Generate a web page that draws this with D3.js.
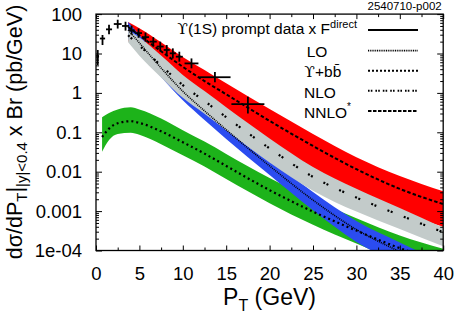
<!DOCTYPE html>
<html>
<head>
<meta charset="utf-8">
<script src="https://cdn.jsdelivr.net/npm/d3@7"></script>
<style>
  body { margin: 0; background: #fff; }
  svg { display: block; font-family: "Liberation Sans", Arial, sans-serif; }
</style>
</head>
<body>
<svg id="chart" width="457" height="315"></svg>
<script>
// theory grid (pT in GeV) for the colour-singlet curves
const ptGrid = [3.7, 5, 7.5, 10, 12.5, 15, 20, 25, 30, 35, 40];

const nnloMid = [47, 29, 11.4, 4.6, 2.0, 0.92, 0.195, 0.045, 0.0116, 0.00366, 0.00151];
const nnloHi  = [63, 44, 19.3, 8.2, 3.8, 1.75, 0.39, 0.091, 0.0234, 0.0078, 0.0032];
const nnloLo  = [20.7, 10.7, 3.5, 1.27, 0.55, 0.254, 0.054, 0.0124, 0.0032, 0.00098, 0.0004];

const nloMid = [29, 15.9, 4.93, 1.58, 0.62, 0.242, 0.039, 0.0074, 0.0022, 0.00079, 0.00029];
const nloHi  = [39, 25.4, 8.9, 2.85, 1.11, 0.433, 0.070, 0.0132, 0.0037, 0.0012, 0.00038];
const nloLo  = [19.3, 8.8, 2.47, 0.75, 0.295, 0.113, 0.0172, 0.0033, 0.00097, 0.00035, 0.000128];

const loMid = [39.5, 18.5, 4.3, 1.10, 0.35, 0.116, 0.014, 0.0019, 0.00034, 0.000093, 0.000028];
const loHi  = [63, 29.6, 6.9, 1.76, 0.56, 0.186, 0.0224, 0.00304, 0.00056, 0.00016, 0.000048];
const loLo  = [23.2, 10.9, 2.53, 0.65, 0.206, 0.068, 0.0082, 0.00105, 0.000165, 0.000044, 0.000013];

// Upsilon + b bbar
const bbGrid = [0.7, 1.5, 2.5, 4, 5, 7.5, 10, 12.5, 15, 20, 25, 30, 35, 40];
const bbMid = [0.076, 0.124, 0.170, 0.191, 0.173, 0.106, 0.056, 0.0288, 0.0140, 0.0034, 0.00097, 0.00032, 0.000115, 0.000049];
const bbHi  = [0.24, 0.31, 0.38, 0.43, 0.38, 0.223, 0.113, 0.058, 0.0283, 0.0069, 0.002, 0.00066, 0.00024, 0.00011];
const bbLo  = [0.032, 0.064, 0.091, 0.098, 0.087, 0.050, 0.026, 0.0135, 0.0065, 0.00159, 0.00045, 0.00015, 0.000053, 0.000022];

// prompt data x F^direct
const dataPt    = [0.2, 0.75, 1.5, 2.5, 3.4, 4.1, 4.9, 5.7, 6.6, 7.4, 8.15, 8.85, 9.6, 11.0, 13.7, 17.5];
const dataVal   = [8.5, 24, 41, 56, 50, 39, 33, 26, 20, 15, 12.3, 10.1, 8.3, 5.6, 2.5, 0.52];
const dataPtErr = [0.15, 0.3, 0.35, 0.45, 0.4, 0.35, 0.4, 0.4, 0.4, 0.4, 0.35, 0.35, 0.4, 0.8, 1.8, 1.9];
const dataLo    = [5.1, 16.4, 31, 43, 38, 30, 25, 20, 15, 11.3, 9.2, 7.5, 6.2, 4.2, 1.85, 0.30];
const dataHi    = [12.3, 29.5, 54, 72, 64, 51, 43, 34, 26, 20, 16.4, 13.5, 11.1, 7.5, 3.4, 0.80];

const xTicks = [0, 5, 10, 15, 20, 25, 30, 35, 40];
const xMinorTicks = [2.5, 7.5, 12.5, 17.5, 22.5, 27.5, 32.5, 37.5];
const yTicks = [1e-4, 1e-3, 1e-2, 1e-1, 1, 10, 100];
const yTickLabels = ["1e-04", "0.001", "0.01", "0.1", "1", "10", "100"];

const svg = d3.select("#chart");
const pLeft = 96, pRight = 443.2, pTop = 14.1, pBottom = 250.5;

const x = d3.scaleLinear().domain([0, 40]).range([pLeft, pRight]);
const y = d3.scaleLog().domain([1e-4, 100]).range([pBottom, pTop]);

svg.append("clipPath").attr("id", "plotClip")
  .append("rect")
  .attr("x", pLeft).attr("y", pTop)
  .attr("width", pRight - pLeft).attr("height", pBottom - pTop);

const plot = svg.append("g").attr("clip-path", "url(#plotClip)");

function drawBand(grid, lo, hi, color) {
  const rows = grid.map((p, i) => ({ p, lo: lo[i], hi: hi[i] }));
  plot.append("path")
    .datum(rows)
    .attr("fill", color)
    .attr("d", d3.area()
      .x(d => x(d.p))
      .y0(d => y(d.lo))
      .y1(d => y(d.hi))
      .curve(d3.curveMonotoneX));
}

function drawCurve(grid, vals, dash, width) {
  const rows = grid.map((p, i) => ({ p, v: vals[i] }));
  plot.append("path")
    .datum(rows)
    .attr("fill", "none")
    .attr("stroke", "#000")
    .attr("stroke-width", width)
    .attr("stroke-dasharray", dash)
    .attr("d", d3.line()
      .x(d => x(d.p))
      .y(d => y(d.v))
      .curve(d3.curveMonotoneX));
}

drawBand(bbGrid, bbLo, bbHi, "#1db31a");
drawBand(ptGrid, nnloLo, nnloHi, "#ff0000");
drawBand(ptGrid, loLo, loHi, "#2b4cf0");
drawBand(ptGrid, nloLo, nloHi, "#c3cbca");

drawCurve(bbGrid, bbMid, "2,3", 2.2);
drawCurve(ptGrid, loMid, "1,1", 1.6);
drawCurve(ptGrid, nloMid, "2,1.5,2,12", 2.2);
drawCurve(ptGrid, nnloMid, "3.5,2.2", 2);

// data crosses
const pts = svg.append("g").attr("stroke", "#000").attr("stroke-width", 1.8);
dataPt.forEach((p, i) => {
  pts.append("line")
    .attr("x1", x(p - dataPtErr[i])).attr("x2", x(p + dataPtErr[i]))
    .attr("y1", y(dataVal[i])).attr("y2", y(dataVal[i]));
  pts.append("line")
    .attr("x1", x(p)).attr("x2", x(p))
    .attr("y1", y(dataLo[i])).attr("y2", y(dataHi[i]));
});

// axes
const tickFont = 18.5;
const axB = svg.append("g").attr("transform", `translate(0,${pBottom})`)
  .call(d3.axisBottom(x).tickValues(xTicks).tickSize(-5).tickPadding(16.5).tickFormat(d3.format("d")));
const axBm = svg.append("g").attr("transform", `translate(0,${pBottom})`)
  .call(d3.axisBottom(x).tickValues(xMinorTicks).tickSize(-3).tickFormat(""));
const axT = svg.append("g").attr("transform", `translate(0,${pTop})`)
  .call(d3.axisTop(x).tickValues(xTicks).tickSize(-5).tickFormat(""));
const axTm = svg.append("g").attr("transform", `translate(0,${pTop})`)
  .call(d3.axisTop(x).tickValues(xMinorTicks).tickSize(-3).tickFormat(""));

const yMinorTicks = [];
yTicks.slice(0, -1).forEach(t => { for (let k = 2; k <= 9; k++) yMinorTicks.push(t * k); });

const axL = svg.append("g").attr("transform", `translate(${pLeft},0)`)
  .call(d3.axisLeft(y).tickValues(yTicks).tickSize(-6).tickPadding(14)
    .tickFormat((d, i) => yTickLabels[i]));
const axLm = svg.append("g").attr("transform", `translate(${pLeft},0)`)
  .call(d3.axisLeft(y).tickValues(yMinorTicks).tickSize(-3).tickFormat(""));
const axR = svg.append("g").attr("transform", `translate(${pRight},0)`)
  .call(d3.axisRight(y).tickValues(yTicks).tickSize(-6).tickFormat(""));
const axRm = svg.append("g").attr("transform", `translate(${pRight},0)`)
  .call(d3.axisRight(y).tickValues(yMinorTicks).tickSize(-3).tickFormat(""));

[axB, axBm, axT, axTm, axL, axLm, axR, axRm].forEach(g => {
  g.select(".domain").remove();
  g.selectAll(".tick line").attr("stroke", "#000").attr("stroke-width", 1);
  g.selectAll("text").attr("font-size", tickFont).attr("font-family", "Liberation Sans, Arial, sans-serif").attr("fill", "#000");
});

svg.append("rect")
  .attr("x", pLeft).attr("y", pTop)
  .attr("width", pRight - pLeft).attr("height", pBottom - pTop)
  .attr("fill", "none").attr("stroke", "#000").attr("stroke-width", 1.3);

// axis titles
const xt = svg.append("text").attr("x", 269.5).attr("y", 305)
  .attr("text-anchor", "middle").attr("font-size", 23);
xt.append("tspan").text("P");
xt.append("tspan").attr("font-size", 16).attr("dy", 6).text("T");
xt.append("tspan").attr("dy", -6).text(" (GeV)");

const yt = svg.append("text")
  .attr("transform", "translate(21.5,132) rotate(-90)")
  .attr("text-anchor", "middle").attr("font-size", 21.5);
yt.append("tspan").text("dσ/dP");
yt.append("tspan").attr("font-size", 15).attr("dy", 5).text("T");
yt.append("tspan").attr("dy", -5).text("|");
yt.append("tspan").attr("font-size", 15).attr("dy", 5).text("|y|<0.4");
yt.append("tspan").attr("dy", -5).text(" x Br (pb/GeV)");

svg.append("text").attr("x", 441.7).attr("y", 9.5)
  .attr("text-anchor", "end").attr("font-size", 11.5).text("2540710-p002");

// legend
const legend = svg.append("g");
const leg1 = legend.append("text").attr("x", 357).attr("y", 34)
  .attr("text-anchor", "end").attr("font-size", 15.5);
leg1.append("tspan").attr("font-family", "DejaVu Serif").text("ϒ");
leg1.append("tspan").text("(1S) prompt data x F");
leg1.append("tspan").attr("font-size", 11).attr("dy", -6).text("direct");

const legRows = [
  { label: "LO", x: 306.7, base: 56.7, line: 50.7, dash: "1,0.8", w: 1.8 },
  { label: "+bb̄", x: 304.3, base: 76.7, line: 70.7, dash: "2,2", w: 2 },
  { label: "NLO", x: 304, base: 97.7, line: 90.7, dash: "1.6,1.2,1.6,3", w: 2 },
  { label: "NNLO", x: 304, base: 117.7, line: 111, dash: "3.5,1.5", w: 2 }
];
legend.append("line").attr("x1", 368).attr("x2", 418).attr("y1", 30).attr("y2", 30)
  .attr("stroke", "#000").attr("stroke-width", 2);
legRows.forEach(r => {
  const t = legend.append("text").attr("x", r.x).attr("y", r.base).attr("font-size", 15.5);
  if (r.label === "+bb̄") t.append("tspan").attr("font-family", "DejaVu Serif").text("ϒ");
  t.append("tspan").text(r.label);
  if (r.label === "NNLO") t.append("tspan").attr("font-size", 10).attr("dy", -8).text("*");
  legend.append("line").attr("x1", 368).attr("x2", 418).attr("y1", r.line).attr("y2", r.line)
    .attr("stroke", "#000").attr("stroke-width", r.w).attr("stroke-dasharray", r.dash);
});
</script>
</body>
</html>
